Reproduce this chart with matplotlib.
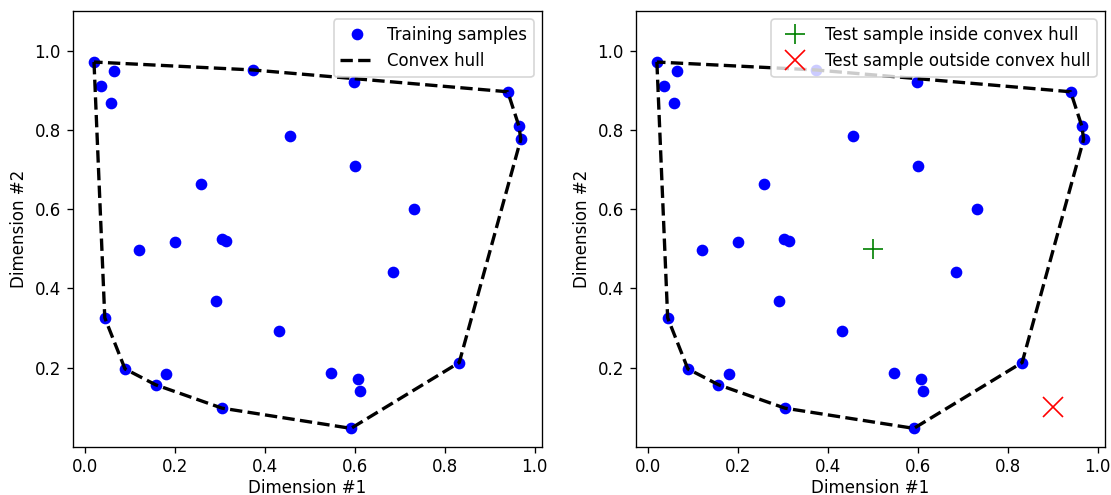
import numpy as np
import matplotlib
matplotlib.use('Agg')
import matplotlib.pyplot as plt

plt.rcParams['font.size'] = 10

# training samples
x_train = [0.019, 0.064, 0.034, 0.057, 0.373, 0.455, 0.258, 0.120, 0.199, 0.303,
           0.312, 0.597, 0.940, 0.965, 0.969, 0.601, 0.732, 0.043, 0.088, 0.156,
           0.180, 0.304, 0.290, 0.431, 0.684, 0.546, 0.607, 0.611, 0.591, 0.832]
y_train = [0.971, 0.949, 0.910, 0.867, 0.951, 0.785, 0.663, 0.496, 0.516, 0.525,
           0.520, 0.921, 0.896, 0.809, 0.776, 0.709, 0.600, 0.326, 0.197, 0.157,
           0.184, 0.098, 0.368, 0.292, 0.441, 0.186, 0.171, 0.140, 0.047, 0.213]

test_inside = [0.5, 0.5]
test_outside = [0.9, 0.1]


def convex_hull(xs, ys):
    pts = sorted(zip(xs, ys))

    def cross(o, a, b):
        return (a[0] - o[0]) * (b[1] - o[1]) - (a[1] - o[1]) * (b[0] - o[0])

    lower = []
    for p in pts:
        while len(lower) >= 2 and cross(lower[-2], lower[-1], p) <= 0:
            lower.pop()
        lower.append(p)
    upper = []
    for p in reversed(pts):
        while len(upper) >= 2 and cross(upper[-2], upper[-1], p) <= 0:
            upper.pop()
        upper.append(p)
    hull = lower[:-1] + upper[:-1]
    hull.append(hull[0])
    return np.array(hull)


hull = convex_hull(x_train, y_train)

fig, (ax1, ax2) = plt.subplots(1, 2, figsize=(1111 / 120, 495 / 120), dpi=120)

ax1.plot(x_train, y_train, 'bo', label='Training samples')
ax1.plot(hull[:, 0], hull[:, 1], 'k--', lw=2, label='Convex hull')
ax1.set_xlabel('Dimension #1', labelpad=1.5)
ax1.set_ylabel('Dimension #2')
ax1.set_ylim(top=1.1)
ax1.legend(loc='upper right')

ax2.plot(x_train, y_train, 'bo')
ax2.plot(hull[:, 0], hull[:, 1], 'k--', lw=2)
ax2.plot(test_inside[0], test_inside[1], 'g+', markersize=12, label='Test sample inside convex hull')
ax2.plot(test_outside[0], test_outside[1], 'rx', markersize=12, label='Test sample outside convex hull')
ax2.set_xlabel('Dimension #1', labelpad=1.5)
ax2.set_ylabel('Dimension #2')
ax2.set_ylim(top=1.1)
ax2.legend(loc='upper right')

plt.subplots_adjust(left=0.0654, right=0.9946, top=0.978, bottom=0.0976, wspace=0.199)
plt.savefig('out.png')
